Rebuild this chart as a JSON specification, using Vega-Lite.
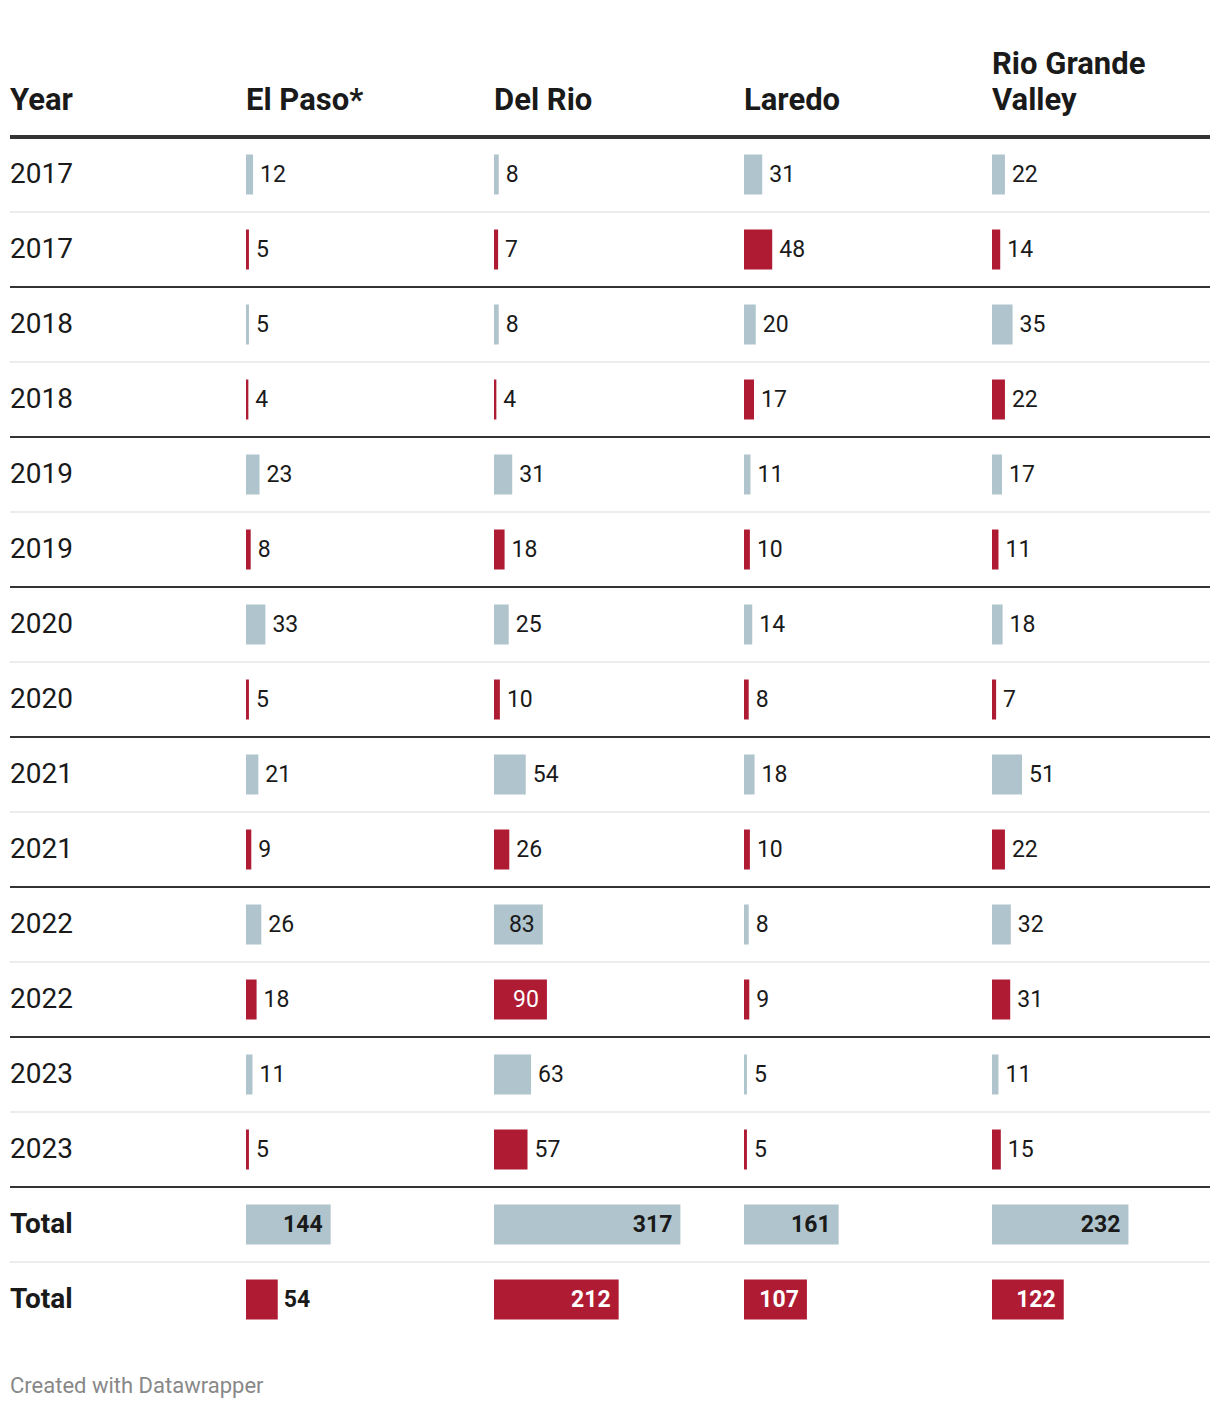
{
  "$schema": "https://vega.github.io/schema/vega-lite/v6.json",
  "padding": {"left": 8, "right": 12, "top": 49, "bottom": 10},
  "background": "white",
  "data": {"values": [
    {"row": "01", "year": "2017", "series": "first", "elpaso": 12, "delrio": 8, "laredo": 31, "rgv": 22},
    {"row": "02", "year": "2017", "series": "second", "elpaso": 5, "delrio": 7, "laredo": 48, "rgv": 14},
    {"row": "03", "year": "2018", "series": "first", "elpaso": 5, "delrio": 8, "laredo": 20, "rgv": 35},
    {"row": "04", "year": "2018", "series": "second", "elpaso": 4, "delrio": 4, "laredo": 17, "rgv": 22},
    {"row": "05", "year": "2019", "series": "first", "elpaso": 23, "delrio": 31, "laredo": 11, "rgv": 17},
    {"row": "06", "year": "2019", "series": "second", "elpaso": 8, "delrio": 18, "laredo": 10, "rgv": 11},
    {"row": "07", "year": "2020", "series": "first", "elpaso": 33, "delrio": 25, "laredo": 14, "rgv": 18},
    {"row": "08", "year": "2020", "series": "second", "elpaso": 5, "delrio": 10, "laredo": 8, "rgv": 7},
    {"row": "09", "year": "2021", "series": "first", "elpaso": 21, "delrio": 54, "laredo": 18, "rgv": 51},
    {"row": "10", "year": "2021", "series": "second", "elpaso": 9, "delrio": 26, "laredo": 10, "rgv": 22},
    {"row": "11", "year": "2022", "series": "first", "elpaso": 26, "delrio": 83, "laredo": 8, "rgv": 32},
    {"row": "12", "year": "2022", "series": "second", "elpaso": 18, "delrio": 90, "laredo": 9, "rgv": 31},
    {"row": "13", "year": "2023", "series": "first", "elpaso": 11, "delrio": 63, "laredo": 5, "rgv": 11},
    {"row": "14", "year": "2023", "series": "second", "elpaso": 5, "delrio": 57, "laredo": 5, "rgv": 15},
    {"row": "15", "year": "Total", "series": "first", "elpaso": 144, "delrio": 317, "laredo": 161, "rgv": 232},
    {"row": "16", "year": "Total", "series": "second", "elpaso": 54, "delrio": 212, "laredo": 107, "rgv": 122}
  ]},
  "title": {"text": "Created with Datawrapper", "orient": "bottom", "anchor": "start", "fontSize": 22, "fontWeight": "normal", "color": "#888888", "offset": 39, "baseline": "top", "lineHeight": 22, "dx": 2},
  "spacing": 0,
  "bounds": "flush",
  "resolve": {"scale": {"x": "independent", "y": "independent", "color": "independent"}},
  "hconcat": [
    {
      "width": 236, "height": 1200,
      "title": {"text": "Year"},
      "encoding": {"y": {"field": "row", "type": "nominal", "axis": null, "scale": {"paddingInner": 0, "paddingOuter": 0}}},
      "layer": [
        {"transform": [{"filter": "datum.row === '01'"}], "mark": {"type": "rule", "color": "#333333", "strokeWidth": 4}, "encoding": {"y": {"field": "row", "type": "nominal", "bandPosition": 0, "axis": null}}},
        {"transform": [{"filter": "datum.series === 'first'"}], "mark": {"type": "rule", "color": "#ececec", "strokeWidth": 2}, "encoding": {"y": {"field": "row", "type": "nominal", "bandPosition": 1, "axis": null}}},
        {"transform": [{"filter": "datum.series === 'second' && datum.row !== '16'"}], "mark": {"type": "rule", "color": "#333333", "strokeWidth": 2}, "encoding": {"y": {"field": "row", "type": "nominal", "bandPosition": 1, "axis": null}}},
        {"transform": [{"filter": "datum.year !== 'Total'"}], "mark": {"type": "text", "align": "left", "baseline": "middle", "fontSize": 28, "color": "#1a1a1a"}, "encoding": {"x": {"value": 0}, "text": {"field": "year", "type": "nominal"}}},
        {"transform": [{"filter": "datum.year === 'Total'"}], "mark": {"type": "text", "align": "left", "baseline": "middle", "fontSize": 28, "fontWeight": "bold", "color": "#1a1a1a"}, "encoding": {"x": {"value": 0}, "text": {"field": "year", "type": "nominal"}}}
      ]
    },
    {
      "width": 248, "height": 1200,
      "title": {"text": "El Paso*"},
      "encoding": {"y": {"field": "row", "type": "nominal", "axis": null, "scale": {"paddingInner": 0, "paddingOuter": 0}}},
      "layer": [
        {"transform": [{"filter": "datum.row === '01'"}], "mark": {"type": "rule", "color": "#333333", "strokeWidth": 4}, "encoding": {"y": {"field": "row", "type": "nominal", "bandPosition": 0, "axis": null}}},
        {"transform": [{"filter": "datum.series === 'first'"}], "mark": {"type": "rule", "color": "#ececec", "strokeWidth": 2}, "encoding": {"y": {"field": "row", "type": "nominal", "bandPosition": 1, "axis": null}}},
        {"transform": [{"filter": "datum.series === 'second' && datum.row !== '16'"}], "mark": {"type": "rule", "color": "#333333", "strokeWidth": 2}, "encoding": {"y": {"field": "row", "type": "nominal", "bandPosition": 1, "axis": null}}},
        {"mark": {"type": "bar", "height": 40}, "encoding": {"x": {"field": "elpaso", "type": "quantitative", "stack": null, "axis": null, "scale": {"domain": [0, 421.8], "nice": false}}, "color": {"field": "series", "type": "nominal", "legend": null, "scale": {"domain": ["first", "second"], "range": ["#afc4cc", "#b01b34"]}}}},
        {"transform": [{"filter": "datum.year !== 'Total' && datum.elpaso < 75"}], "mark": {"type": "text", "align": "left", "baseline": "middle", "dx": 7, "fontSize": 23, "color": "#1a1a1a"}, "encoding": {"x": {"field": "elpaso", "type": "quantitative"}, "text": {"field": "elpaso", "type": "nominal"}}},
        {"transform": [{"filter": "datum.year !== 'Total' && datum.elpaso >= 75"}], "mark": {"type": "text", "align": "right", "baseline": "middle", "dx": -8, "fontSize": 23}, "encoding": {"x": {"field": "elpaso", "type": "quantitative"}, "text": {"field": "elpaso", "type": "nominal"}, "color": {"condition": {"test": "datum.series === 'second'", "value": "#ffffff"}, "value": "#1a1a1a"}}},
        {"transform": [{"filter": "datum.year === 'Total' && datum.elpaso < 75"}], "mark": {"type": "text", "align": "left", "baseline": "middle", "dx": 6, "fontSize": 23, "fontWeight": "bold", "color": "#1a1a1a"}, "encoding": {"x": {"field": "elpaso", "type": "quantitative"}, "text": {"field": "elpaso", "type": "nominal"}}},
        {"transform": [{"filter": "datum.year === 'Total' && datum.elpaso >= 75"}], "mark": {"type": "text", "align": "right", "baseline": "middle", "dx": -8, "fontSize": 23, "fontWeight": "bold"}, "encoding": {"x": {"field": "elpaso", "type": "quantitative"}, "text": {"field": "elpaso", "type": "nominal"}, "color": {"condition": {"test": "datum.series === 'second'", "value": "#ffffff"}, "value": "#1a1a1a"}}}
      ]
    },
    {
      "width": 250, "height": 1200,
      "title": {"text": "Del Rio"},
      "encoding": {"y": {"field": "row", "type": "nominal", "axis": null, "scale": {"paddingInner": 0, "paddingOuter": 0}}},
      "layer": [
        {"transform": [{"filter": "datum.row === '01'"}], "mark": {"type": "rule", "color": "#333333", "strokeWidth": 4}, "encoding": {"y": {"field": "row", "type": "nominal", "bandPosition": 0, "axis": null}}},
        {"transform": [{"filter": "datum.series === 'first'"}], "mark": {"type": "rule", "color": "#ececec", "strokeWidth": 2}, "encoding": {"y": {"field": "row", "type": "nominal", "bandPosition": 1, "axis": null}}},
        {"transform": [{"filter": "datum.series === 'second' && datum.row !== '16'"}], "mark": {"type": "rule", "color": "#333333", "strokeWidth": 2}, "encoding": {"y": {"field": "row", "type": "nominal", "bandPosition": 1, "axis": null}}},
        {"mark": {"type": "bar", "height": 40}, "encoding": {"x": {"field": "delrio", "type": "quantitative", "stack": null, "axis": null, "scale": {"domain": [0, 425.2], "nice": false}}, "color": {"field": "series", "type": "nominal", "legend": null, "scale": {"domain": ["first", "second"], "range": ["#afc4cc", "#b01b34"]}}}},
        {"transform": [{"filter": "datum.year !== 'Total' && datum.delrio < 75"}], "mark": {"type": "text", "align": "left", "baseline": "middle", "dx": 7, "fontSize": 23, "color": "#1a1a1a"}, "encoding": {"x": {"field": "delrio", "type": "quantitative"}, "text": {"field": "delrio", "type": "nominal"}}},
        {"transform": [{"filter": "datum.year !== 'Total' && datum.delrio >= 75"}], "mark": {"type": "text", "align": "right", "baseline": "middle", "dx": -8, "fontSize": 23}, "encoding": {"x": {"field": "delrio", "type": "quantitative"}, "text": {"field": "delrio", "type": "nominal"}, "color": {"condition": {"test": "datum.series === 'second'", "value": "#ffffff"}, "value": "#1a1a1a"}}},
        {"transform": [{"filter": "datum.year === 'Total' && datum.delrio < 75"}], "mark": {"type": "text", "align": "left", "baseline": "middle", "dx": 6, "fontSize": 23, "fontWeight": "bold", "color": "#1a1a1a"}, "encoding": {"x": {"field": "delrio", "type": "quantitative"}, "text": {"field": "delrio", "type": "nominal"}}},
        {"transform": [{"filter": "datum.year === 'Total' && datum.delrio >= 75"}], "mark": {"type": "text", "align": "right", "baseline": "middle", "dx": -8, "fontSize": 23, "fontWeight": "bold"}, "encoding": {"x": {"field": "delrio", "type": "quantitative"}, "text": {"field": "delrio", "type": "nominal"}, "color": {"condition": {"test": "datum.series === 'second'", "value": "#ffffff"}, "value": "#1a1a1a"}}}
      ]
    },
    {
      "width": 248, "height": 1200,
      "title": {"text": "Laredo"},
      "encoding": {"y": {"field": "row", "type": "nominal", "axis": null, "scale": {"paddingInner": 0, "paddingOuter": 0}}},
      "layer": [
        {"transform": [{"filter": "datum.row === '01'"}], "mark": {"type": "rule", "color": "#333333", "strokeWidth": 4}, "encoding": {"y": {"field": "row", "type": "nominal", "bandPosition": 0, "axis": null}}},
        {"transform": [{"filter": "datum.series === 'first'"}], "mark": {"type": "rule", "color": "#ececec", "strokeWidth": 2}, "encoding": {"y": {"field": "row", "type": "nominal", "bandPosition": 1, "axis": null}}},
        {"transform": [{"filter": "datum.series === 'second' && datum.row !== '16'"}], "mark": {"type": "rule", "color": "#333333", "strokeWidth": 2}, "encoding": {"y": {"field": "row", "type": "nominal", "bandPosition": 1, "axis": null}}},
        {"mark": {"type": "bar", "height": 40}, "encoding": {"x": {"field": "laredo", "type": "quantitative", "stack": null, "axis": null, "scale": {"domain": [0, 421.8], "nice": false}}, "color": {"field": "series", "type": "nominal", "legend": null, "scale": {"domain": ["first", "second"], "range": ["#afc4cc", "#b01b34"]}}}},
        {"transform": [{"filter": "datum.year !== 'Total' && datum.laredo < 75"}], "mark": {"type": "text", "align": "left", "baseline": "middle", "dx": 7, "fontSize": 23, "color": "#1a1a1a"}, "encoding": {"x": {"field": "laredo", "type": "quantitative"}, "text": {"field": "laredo", "type": "nominal"}}},
        {"transform": [{"filter": "datum.year !== 'Total' && datum.laredo >= 75"}], "mark": {"type": "text", "align": "right", "baseline": "middle", "dx": -8, "fontSize": 23}, "encoding": {"x": {"field": "laredo", "type": "quantitative"}, "text": {"field": "laredo", "type": "nominal"}, "color": {"condition": {"test": "datum.series === 'second'", "value": "#ffffff"}, "value": "#1a1a1a"}}},
        {"transform": [{"filter": "datum.year === 'Total' && datum.laredo < 75"}], "mark": {"type": "text", "align": "left", "baseline": "middle", "dx": 6, "fontSize": 23, "fontWeight": "bold", "color": "#1a1a1a"}, "encoding": {"x": {"field": "laredo", "type": "quantitative"}, "text": {"field": "laredo", "type": "nominal"}}},
        {"transform": [{"filter": "datum.year === 'Total' && datum.laredo >= 75"}], "mark": {"type": "text", "align": "right", "baseline": "middle", "dx": -8, "fontSize": 23, "fontWeight": "bold"}, "encoding": {"x": {"field": "laredo", "type": "quantitative"}, "text": {"field": "laredo", "type": "nominal"}, "color": {"condition": {"test": "datum.series === 'second'", "value": "#ffffff"}, "value": "#1a1a1a"}}}
      ]
    },
    {
      "width": 218, "height": 1200,
      "title": {"text": ["Rio Grande", "Valley"]},
      "encoding": {"y": {"field": "row", "type": "nominal", "axis": null, "scale": {"paddingInner": 0, "paddingOuter": 0}}},
      "layer": [
        {"transform": [{"filter": "datum.row === '01'"}], "mark": {"type": "rule", "color": "#333333", "strokeWidth": 4}, "encoding": {"y": {"field": "row", "type": "nominal", "bandPosition": 0, "axis": null}}},
        {"transform": [{"filter": "datum.series === 'first'"}], "mark": {"type": "rule", "color": "#ececec", "strokeWidth": 2}, "encoding": {"y": {"field": "row", "type": "nominal", "bandPosition": 1, "axis": null}}},
        {"transform": [{"filter": "datum.series === 'second' && datum.row !== '16'"}], "mark": {"type": "rule", "color": "#333333", "strokeWidth": 2}, "encoding": {"y": {"field": "row", "type": "nominal", "bandPosition": 1, "axis": null}}},
        {"mark": {"type": "bar", "height": 40}, "encoding": {"x": {"field": "rgv", "type": "quantitative", "stack": null, "axis": null, "scale": {"domain": [0, 370.7], "nice": false}}, "color": {"field": "series", "type": "nominal", "legend": null, "scale": {"domain": ["first", "second"], "range": ["#afc4cc", "#b01b34"]}}}},
        {"transform": [{"filter": "datum.year !== 'Total' && datum.rgv < 75"}], "mark": {"type": "text", "align": "left", "baseline": "middle", "dx": 7, "fontSize": 23, "color": "#1a1a1a"}, "encoding": {"x": {"field": "rgv", "type": "quantitative"}, "text": {"field": "rgv", "type": "nominal"}}},
        {"transform": [{"filter": "datum.year !== 'Total' && datum.rgv >= 75"}], "mark": {"type": "text", "align": "right", "baseline": "middle", "dx": -8, "fontSize": 23}, "encoding": {"x": {"field": "rgv", "type": "quantitative"}, "text": {"field": "rgv", "type": "nominal"}, "color": {"condition": {"test": "datum.series === 'second'", "value": "#ffffff"}, "value": "#1a1a1a"}}},
        {"transform": [{"filter": "datum.year === 'Total' && datum.rgv < 75"}], "mark": {"type": "text", "align": "left", "baseline": "middle", "dx": 6, "fontSize": 23, "fontWeight": "bold", "color": "#1a1a1a"}, "encoding": {"x": {"field": "rgv", "type": "quantitative"}, "text": {"field": "rgv", "type": "nominal"}}},
        {"transform": [{"filter": "datum.year === 'Total' && datum.rgv >= 75"}], "mark": {"type": "text", "align": "right", "baseline": "middle", "dx": -8, "fontSize": 23, "fontWeight": "bold"}, "encoding": {"x": {"field": "rgv", "type": "quantitative"}, "text": {"field": "rgv", "type": "nominal"}, "color": {"condition": {"test": "datum.series === 'second'", "value": "#ffffff"}, "value": "#1a1a1a"}}}
      ]
    }
  ],
  "config": {
    "font": "Roboto",
    "view": {"stroke": null},
    "title": {"anchor": "start", "orient": "top", "fontSize": 31, "fontWeight": "bold", "color": "#1a1a1a", "baseline": "bottom", "offset": 18, "lineHeight": 36, "font": "Roboto", "dx": 2}
  }
}
